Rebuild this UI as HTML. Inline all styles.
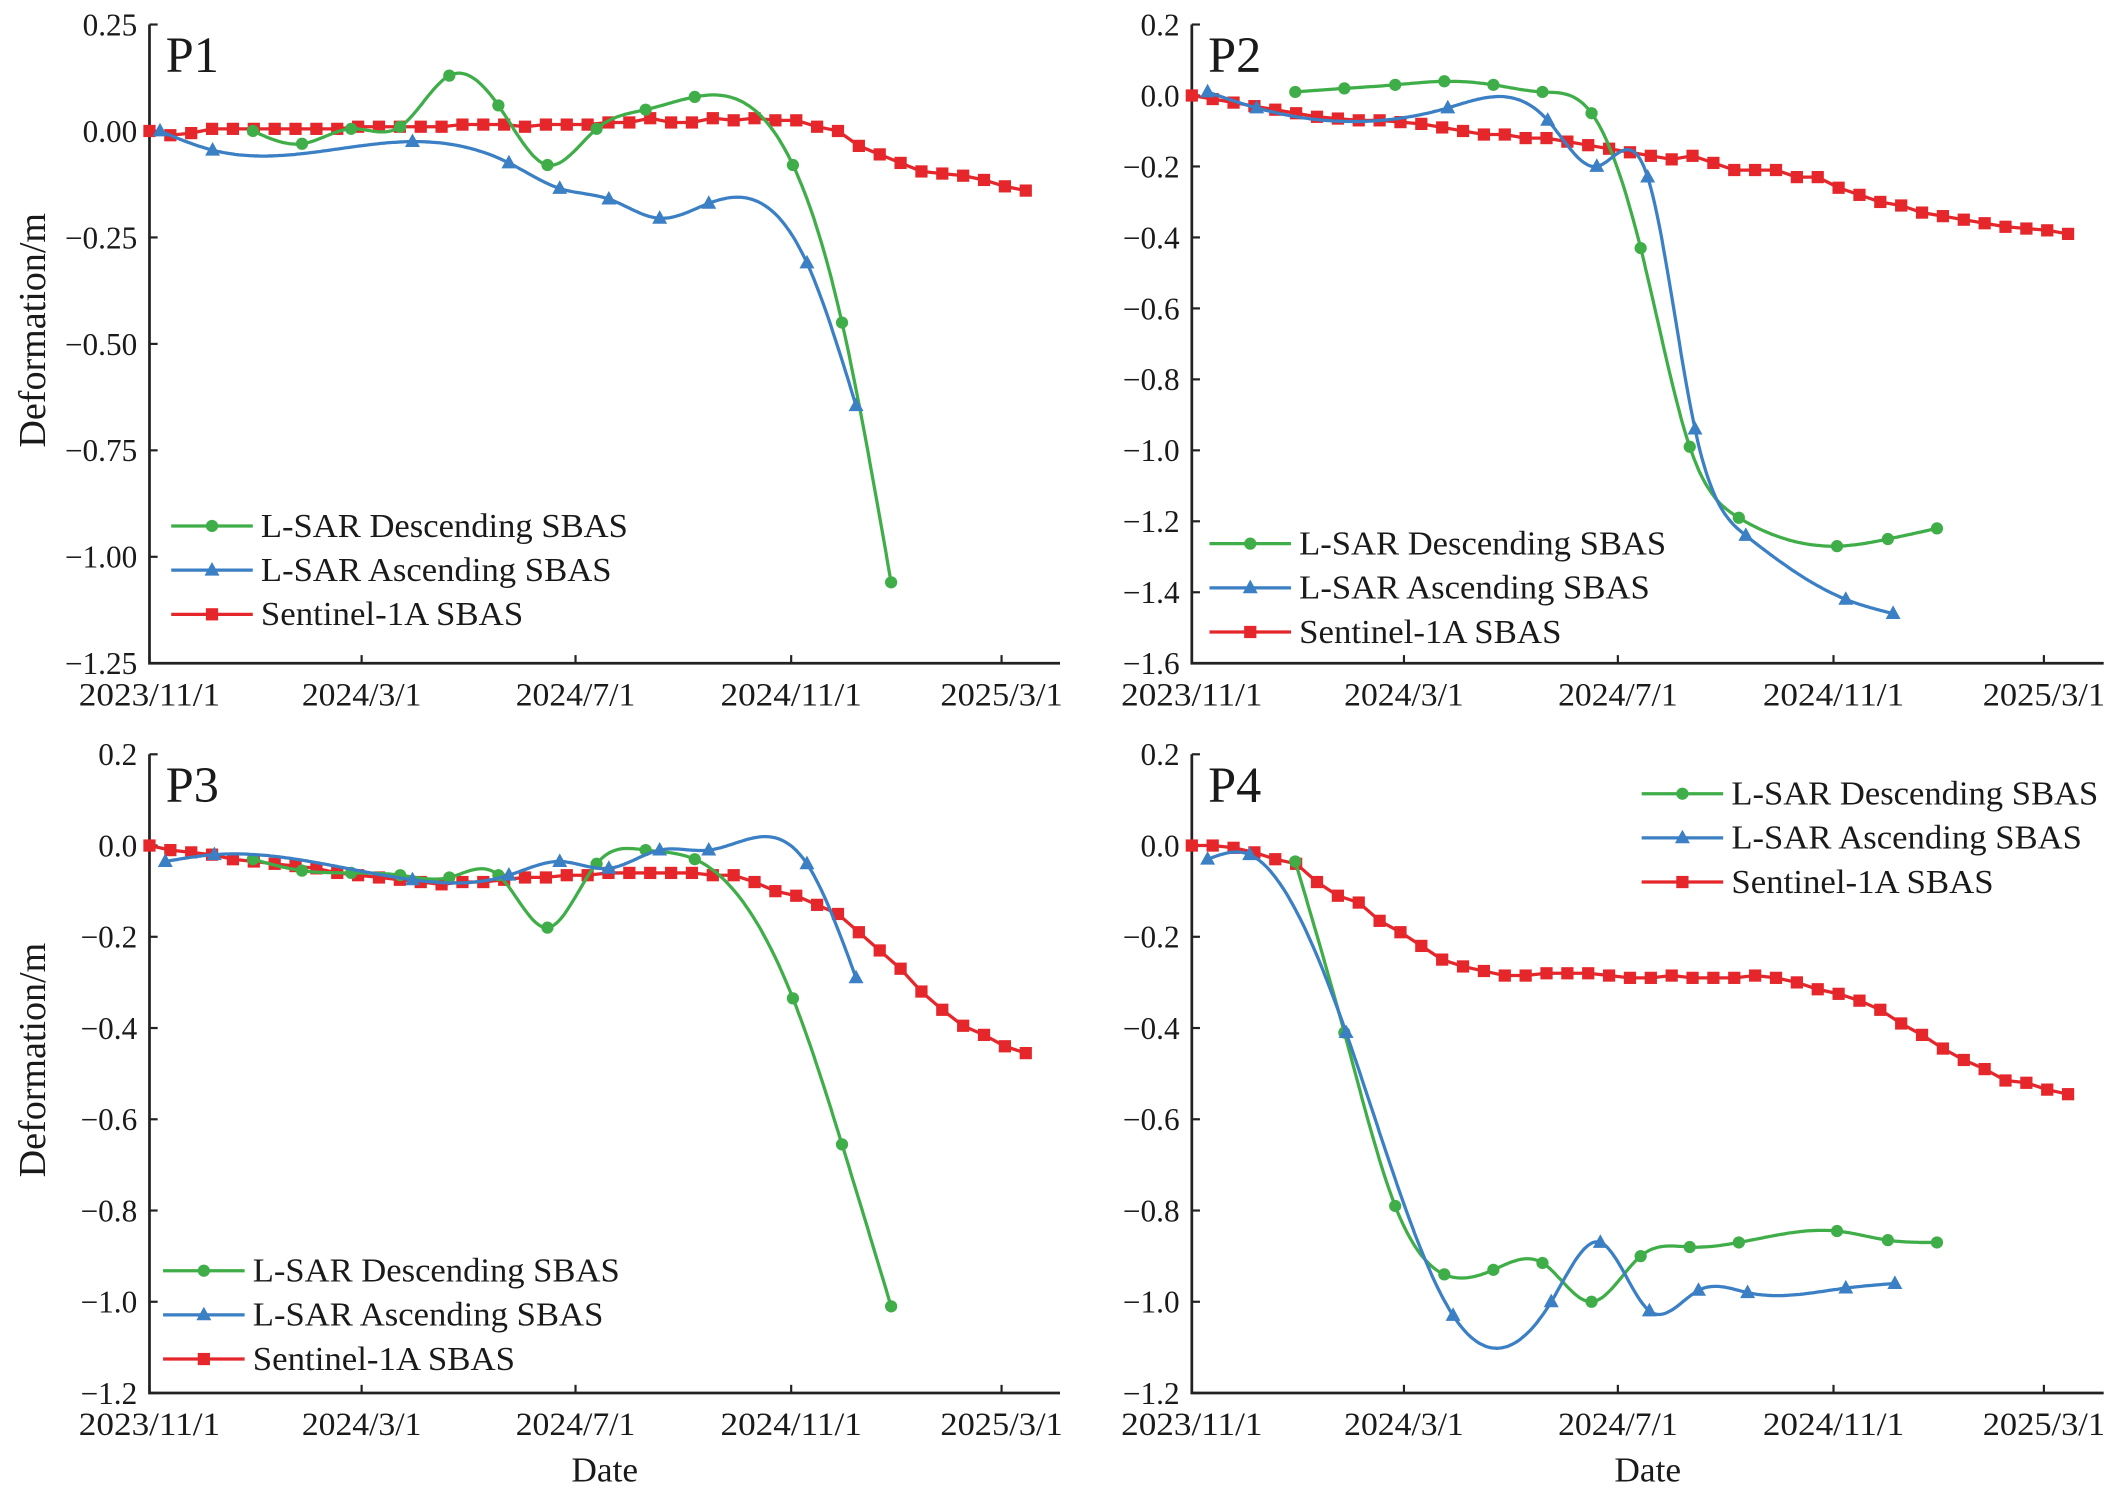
<!DOCTYPE html>
<html><head><meta charset="utf-8">
<style>
html,body{margin:0;padding:0;background:#fff;}
svg{display:block;}
text{font-family:"Liberation Serif","DejaVu Serif",serif;fill:#1a1a1a;}
</style></head>
<body>
<svg id="fig" width="2120" height="1495" viewBox="0 0 1560 1100" xmlns="http://www.w3.org/2000/svg"></svg>
<script>
// Shared x tick labels (days since 2023-11-01)
const xTickDays = [0, 121, 243, 366, 486];
const xTickLabels = ["2023/11/1", "2024/3/1", "2024/7/1", "2024/11/1", "2025/3/1"];
const s1Days = Array.from({length:43}, (_, i) => i * 11.9);

// P1
const p1DescDays = [59,87,115,143,171,199,227,255,283,311,367,395,423];
const p1DescVals = [-0.0,-0.03,0.005,0.01,0.13,0.06,-0.08,0.005,0.05,0.08,-0.08,-0.45,-1.06];
const p1AscDays = [6,36,150,205,234,262,291,319,375,403];
const p1AscVals = [0.0,-0.045,-0.025,-0.075,-0.135,-0.16,-0.205,-0.17,-0.31,-0.645];
const p1S1Vals = [0,-0.01,-0.005,0.005,0.005,0.005,0.005,0.005,0.005,0.005,0.01,0.01,0.01,0.01,0.01,0.015,0.015,0.015,0.01,0.015,0.015,0.015,0.02,0.02,0.03,0.02,0.02,0.03,0.025,0.03,0.025,0.025,0.01,0.0,-0.035,-0.055,-0.075,-0.095,-0.1,-0.105,-0.115,-0.13,-0.14];
const p1YTicks = [0.25,0,-0.25,-0.5,-0.75,-1.0,-1.25];
const p1YLabels = ["0.25","0.00","\u22120.25","\u22120.50","\u22120.75","\u22121.00","\u22121.25"];

// P2
const p2DescDays = [59,87,116,144,172,200,228,256,284,312,368,397,425];
const p2DescVals = [0.01,0.02,0.03,0.04,0.03,0.01,-0.05,-0.43,-0.99,-1.19,-1.27,-1.25,-1.22];
const p2AscDays = [9,37,146,203,231,260,287,316,373,400];
const p2AscVals = [0.01,-0.035,-0.035,-0.07,-0.2,-0.23,-0.94,-1.24,-1.42,-1.46];
const p2S1Vals = [0,-0.01,-0.02,-0.03,-0.04,-0.05,-0.06,-0.065,-0.07,-0.07,-0.075,-0.08,-0.09,-0.1,-0.11,-0.11,-0.12,-0.12,-0.13,-0.14,-0.15,-0.16,-0.17,-0.18,-0.17,-0.19,-0.21,-0.21,-0.21,-0.23,-0.23,-0.26,-0.28,-0.3,-0.31,-0.33,-0.34,-0.35,-0.36,-0.37,-0.375,-0.38,-0.39];
const p2YTicks = [0.2,0,-0.2,-0.4,-0.6,-0.8,-1.0,-1.2,-1.4,-1.6];
const p2YLabels = ["0.2","0.0","\u22120.2","\u22120.4","\u22120.6","\u22120.8","\u22121.0","\u22121.2","\u22121.4","\u22121.6"];

// P3
const p3DescDays = [59,87,115,143,171,199,227,255,283,311,367,395,423];
const p3DescVals = [-0.03,-0.055,-0.06,-0.065,-0.07,-0.065,-0.18,-0.04,-0.01,-0.03,-0.335,-0.655,-1.01];
const p3AscDays = [9,37,150,205,234,262,291,319,375,403];
const p3AscVals = [-0.035,-0.02,-0.075,-0.065,-0.035,-0.05,-0.01,-0.01,-0.04,-0.29];
const p3S1Vals = [0,-0.01,-0.015,-0.02,-0.03,-0.035,-0.04,-0.045,-0.05,-0.06,-0.065,-0.07,-0.075,-0.08,-0.085,-0.08,-0.08,-0.075,-0.07,-0.07,-0.065,-0.065,-0.06,-0.06,-0.06,-0.06,-0.06,-0.065,-0.065,-0.08,-0.1,-0.11,-0.13,-0.15,-0.19,-0.23,-0.27,-0.32,-0.36,-0.395,-0.415,-0.44,-0.455];
const p3YTicks = [0.2,0,-0.2,-0.4,-0.6,-0.8,-1.0,-1.2];
const p3YLabels = ["0.2","0.0","\u22120.2","\u22120.4","\u22120.6","\u22120.8","\u22121.0","\u22121.2"];

// P4
const p4DescDays = [59,87,116,144,172,200,228,256,284,312,368,397,425];
const p4DescVals = [-0.035,-0.41,-0.79,-0.94,-0.93,-0.915,-1.0,-0.9,-0.88,-0.87,-0.845,-0.865,-0.87];
const p4AscDays = [9,33,88,149,205,233,261,289,317,373,401];
const p4AscVals = [-0.03,-0.02,-0.41,-1.03,-1.0,-0.87,-1.02,-0.975,-0.98,-0.97,-0.96];
const p4S1Vals = [0,0,-0.005,-0.015,-0.03,-0.04,-0.08,-0.11,-0.125,-0.165,-0.19,-0.22,-0.25,-0.265,-0.275,-0.285,-0.285,-0.28,-0.28,-0.28,-0.285,-0.29,-0.29,-0.285,-0.29,-0.29,-0.29,-0.285,-0.29,-0.3,-0.315,-0.325,-0.34,-0.36,-0.39,-0.415,-0.445,-0.47,-0.49,-0.515,-0.52,-0.535,-0.545];
const p4YTicks = p3YTicks;
const p4YLabels = p3YLabels;

const NS = "http://www.w3.org/2000/svg";
const svg = document.getElementById("fig");
const GREEN = "#3fae49", BLUE = "#3b7fc4", RED = "#e5262b";

function mk(tag, attrs, parent) {
  const e = document.createElementNS(NS, tag);
  for (const k in attrs) e.setAttribute(k, attrs[k]);
  (parent || svg).appendChild(e);
  return e;
}

function spline(xs, ys) {
  const n = xs.length;
  if (n < 3) return t => ys[0] + (ys[n-1]-ys[0])*(t-xs[0])/(xs[n-1]-xs[0]);
  const h = [], al = [], l = [1], mu = [0], z = [0], b = [], d = [];
  for (let i = 0; i < n-1; i++) h.push(xs[i+1]-xs[i]);
  for (let i = 1; i < n-1; i++) al[i] = 3/h[i]*(ys[i+1]-ys[i]) - 3/h[i-1]*(ys[i]-ys[i-1]);
  for (let i = 1; i < n-1; i++) {
    l[i] = 2*(xs[i+1]-xs[i-1]) - h[i-1]*mu[i-1];
    mu[i] = h[i]/l[i];
    z[i] = (al[i]-h[i-1]*z[i-1])/l[i];
  }
  const cc = new Array(n).fill(0);
  for (let j = n-2; j >= 1; j--) cc[j] = z[j] - mu[j]*cc[j+1];
  for (let j = 0; j < n-1; j++) {
    b[j] = (ys[j+1]-ys[j])/h[j] - h[j]*(cc[j+1]+2*cc[j])/3;
    d[j] = (cc[j+1]-cc[j])/(3*h[j]);
  }
  return t => {
    let j = 0;
    while (j < n-2 && t > xs[j+1]) j++;
    const dx = t - xs[j];
    return ys[j] + b[j]*dx + cc[j]*dx*dx + d[j]*dx*dx*dx;
  };
}

function marker(g, type, x, y, color) {
  let m;
  if (type === "circle") m = mk("circle", {cx:x, cy:y, r:4.5, fill:color}, g);
  else if (type === "tri") m = mk("polygon", {points:`${x},${y-6} ${x-5.5},${y+4} ${x+5.5},${y+4}`, fill:color}, g);
  else m = mk("rect", {x:x-4.5, y:y-4.5, width:9, height:9, fill:color}, g);
  
  
}

function panel(cfg) {
  const {id, left, right, top, bottom, ymax, ymin, label, yTicks, yLabels, desc, asc, s1, legend, showYTitle, showXTitle} = cfg;
  const pg = mk("g", {});
  
  
  const pxPerDay = 627 / 486;
  const X = d => left + d * pxPerDay;
  const Y = v => top + (ymax - v) / (ymax - ymin) * (bottom - top);

  const ax = mk("path", {d:`M${left},${top} V${bottom} H${right}`, stroke:"#222", "stroke-width":2, fill:"none"}, pg);
  
  
  yTicks.forEach((v, i) => {
    const y = Y(v);
    const t = mk("line", {x1:left, x2:left+6, y1:y, y2:y, stroke:"#222", "stroke-width":1.6}, pg);
    
    
    const tl = mk("text", {x:left-9, y:y+8, "text-anchor":"end", "font-size":23}, pg);
    tl.textContent = yLabels[i];
    
    
  });
  xTickDays.forEach((d, i) => {
    const x = X(d);
    const t = mk("line", {x1:x, x2:x, y1:bottom, y2:bottom-6, stroke:"#222", "stroke-width":1.6}, pg);
    
    
    const tl = mk("text", {x:x, y:bottom+31, "text-anchor":"middle", "font-size":24, textLength:(i===0||i===3)?104:(i===4?90:88), lengthAdjust:"spacingAndGlyphs"}, pg);
    tl.textContent = xTickLabels[i];
    
    
  });
  const pl = mk("text", {x:left+12, y:top+35, "font-size":37}, pg);
  pl.textContent = label;
  
  
  if (showYTitle) {
    const yt = mk("text", {x:0, y:0, "text-anchor":"middle", "font-size":28, transform:`translate(33,${(top+bottom)/2-10}) rotate(-90)`}, pg);
    yt.textContent = "Deformation/m";
    
    
  }
  if (showXTitle) {
    const xt = mk("text", {x:(left+right)/2, y:bottom+65, "text-anchor":"middle", "font-size":26}, pg);
    xt.textContent = "Date";
    
    
  }

  const sg = mk("g", {}, pg);
  
  
  const spts = s1Days.map((d, i) => `${X(d).toFixed(1)},${Y(s1[i]).toFixed(1)}`).join(" ");
  mk("polyline", {points:spts, fill:"none", stroke:RED, "stroke-width":2.4}, sg);
  s1Days.forEach((d, i) => marker(sg, "square", X(d), Y(s1[i]), RED));

  [[desc, GREEN, "circle", "descending-series"], [asc, BLUE, "tri", "ascending-series"]].forEach(([ser, col, mt, nm]) => {
    const g = mk("g", {}, pg);
    
    
    const f = spline(ser[0], ser[1]);
    const d0 = ser[0][0], d1 = ser[0][ser[0].length-1];
    let p = "";
    for (let t = d0; t <= d1 + 0.001; t += 1) p += (p ? " L" : "M") + X(t).toFixed(1) + "," + Y(f(t)).toFixed(1);
    mk("path", {d:p, fill:"none", stroke:col, "stroke-width":2.4}, g);
    ser[0].forEach((d, i) => marker(g, mt, X(d), Y(ser[1][i]), col));
  });

  const lg = mk("g", {}, pg);
  
  
  const items = [["L-SAR Descending SBAS", GREEN, "circle", 270], ["L-SAR Ascending SBAS", BLUE, "tri", 258], ["Sentinel-1A SBAS", RED, "square", 193]];
  items.forEach((it, i) => {
    const y = legend.y + i * 32.5;
    const e = mk("g", {}, lg);
    
    
    mk("line", {x1:legend.x, x2:legend.x+60, y1:y, y2:y, stroke:it[1], "stroke-width":2.4}, e);
    marker(e, it[2], legend.x+30, y, it[1]);
    const t = mk("text", {x:legend.x+66, y:y+8, "font-size":25, textLength:it[3], lengthAdjust:"spacingAndGlyphs"}, e);
    t.textContent = it[0];
  });
}

panel({id:"p1", left:110, right:780, top:18, bottom:488, ymax:0.25, ymin:-1.25, label:"P1", yTicks:p1YTicks, yLabels:p1YLabels,
  desc:[p1DescDays,p1DescVals], asc:[p1AscDays,p1AscVals], s1:p1S1Vals, legend:{x:126, y:387}, showYTitle:true, showXTitle:false});
panel({id:"p2", left:877, right:1548, top:18, bottom:488, ymax:0.2, ymin:-1.6, label:"P2", yTicks:p2YTicks, yLabels:p2YLabels,
  desc:[p2DescDays,p2DescVals], asc:[p2AscDays,p2AscVals], s1:p2S1Vals, legend:{x:890, y:400}, showYTitle:false, showXTitle:false});
panel({id:"p3", left:110, right:780, top:555, bottom:1025, ymax:0.2, ymin:-1.2, label:"P3", yTicks:p3YTicks, yLabels:p3YLabels,
  desc:[p3DescDays,p3DescVals], asc:[p3AscDays,p3AscVals], s1:p3S1Vals, legend:{x:120, y:935}, showYTitle:true, showXTitle:true});
panel({id:"p4", left:877, right:1548, top:555, bottom:1025, ymax:0.2, ymin:-1.2, label:"P4", yTicks:p4YTicks, yLabels:p4YLabels,
  desc:[p4DescDays,p4DescVals], asc:[p4AscDays,p4AscVals], s1:p4S1Vals, legend:{x:1208, y:584}, showYTitle:false, showXTitle:true});
</script>
</body></html>
